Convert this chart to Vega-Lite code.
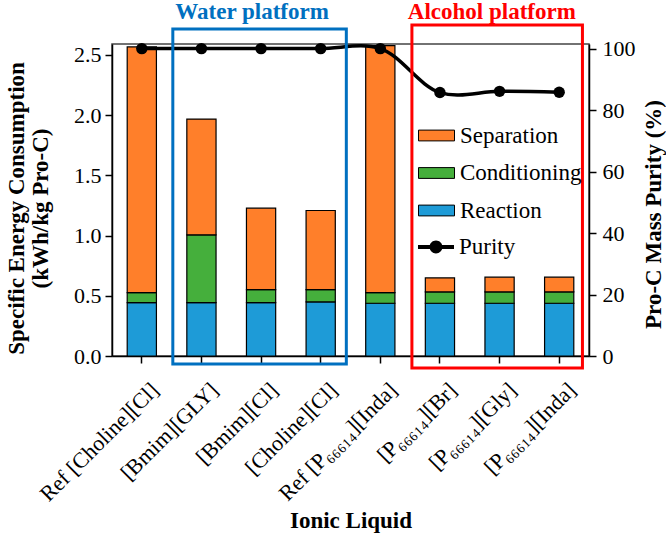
{
  "$schema": "https://vega.github.io/schema/vega-lite/v6.json",
  "width": 477,
  "height": 312,
  "autosize": {"type": "none"},
  "padding": {"left": 112, "top": 44, "right": 77, "bottom": 181},
  "background": "white",
  "config": {
    "font": "Liberation Serif, Times New Roman, DejaVu Serif, serif",
    "text": {"font": "Liberation Serif, Times New Roman, DejaVu Serif, serif"},
    "view": {"stroke": "#444", "strokeWidth": 1.5},
    "axis": {
      "labelFont": "Liberation Serif, Times New Roman, DejaVu Serif, serif",
      "titleFont": "Liberation Serif, Times New Roman, DejaVu Serif, serif",
      "labelColor": "black",
      "titleColor": "black",
      "domainColor": "black",
      "tickColor": "black",
      "domainWidth": 1.5,
      "tickWidth": 1.5,
      "tickSize": 7,
      "labelFontSize": 22,
      "titleFontSize": 23,
      "titleFontWeight": "bold",
      "grid": false
    },
    "legend": {"labelFont": "Liberation Serif, Times New Roman, DejaVu Serif, serif", "labelColor": "black"}
  },
  "datasets": {
    "energy": [
      {"ionic_liquid": "Ref [Choline][Cl]", "stage": "Reaction", "step": 1, "kwh": 0.443},
      {"ionic_liquid": "Ref [Choline][Cl]", "stage": "Conditioning", "step": 2, "kwh": 0.083},
      {"ionic_liquid": "Ref [Choline][Cl]", "stage": "Separation", "step": 3, "kwh": 2.04},
      {"ionic_liquid": "[Bmim][GLY]", "stage": "Reaction", "step": 1, "kwh": 0.443},
      {"ionic_liquid": "[Bmim][GLY]", "stage": "Conditioning", "step": 2, "kwh": 0.563},
      {"ionic_liquid": "[Bmim][GLY]", "stage": "Separation", "step": 3, "kwh": 0.961},
      {"ionic_liquid": "[Bmim][Cl]", "stage": "Reaction", "step": 1, "kwh": 0.443},
      {"ionic_liquid": "[Bmim][Cl]", "stage": "Conditioning", "step": 2, "kwh": 0.108},
      {"ionic_liquid": "[Bmim][Cl]", "stage": "Separation", "step": 3, "kwh": 0.676},
      {"ionic_liquid": "[Choline][Cl]", "stage": "Reaction", "step": 1, "kwh": 0.449},
      {"ionic_liquid": "[Choline][Cl]", "stage": "Conditioning", "step": 2, "kwh": 0.102},
      {"ionic_liquid": "[Choline][Cl]", "stage": "Separation", "step": 3, "kwh": 0.657},
      {"ionic_liquid": "Ref [P₆₆₆₁₄][Inda]", "stage": "Reaction", "step": 1, "kwh": 0.438},
      {"ionic_liquid": "Ref [P₆₆₆₁₄][Inda]", "stage": "Conditioning", "step": 2, "kwh": 0.088},
      {"ionic_liquid": "Ref [P₆₆₆₁₄][Inda]", "stage": "Separation", "step": 3, "kwh": 2.05},
      {"ionic_liquid": "[P₆₆₆₁₄][Br]", "stage": "Reaction", "step": 1, "kwh": 0.438},
      {"ionic_liquid": "[P₆₆₆₁₄][Br]", "stage": "Conditioning", "step": 2, "kwh": 0.094},
      {"ionic_liquid": "[P₆₆₆₁₄][Br]", "stage": "Separation", "step": 3, "kwh": 0.116},
      {"ionic_liquid": "[P₆₆₆₁₄][Gly]", "stage": "Reaction", "step": 1, "kwh": 0.438},
      {"ionic_liquid": "[P₆₆₆₁₄][Gly]", "stage": "Conditioning", "step": 2, "kwh": 0.094},
      {"ionic_liquid": "[P₆₆₆₁₄][Gly]", "stage": "Separation", "step": 3, "kwh": 0.122},
      {"ionic_liquid": "[P₆₆₆₁₄][Inda]", "stage": "Reaction", "step": 1, "kwh": 0.438},
      {"ionic_liquid": "[P₆₆₆₁₄][Inda]", "stage": "Conditioning", "step": 2, "kwh": 0.094},
      {"ionic_liquid": "[P₆₆₆₁₄][Inda]", "stage": "Separation", "step": 3, "kwh": 0.122}
    ],
    "purity": [
      {"ionic_liquid": "Ref [Choline][Cl]", "purity": 100},
      {"ionic_liquid": "[Bmim][GLY]", "purity": 100},
      {"ionic_liquid": "[Bmim][Cl]", "purity": 100},
      {"ionic_liquid": "[Choline][Cl]", "purity": 100},
      {"ionic_liquid": "Ref [P₆₆₆₁₄][Inda]", "purity": 100},
      {"ionic_liquid": "[P₆₆₆₁₄][Br]", "purity": 85.7},
      {"ionic_liquid": "[P₆₆₆₁₄][Gly]", "purity": 86.1},
      {"ionic_liquid": "[P₆₆₆₁₄][Inda]", "purity": 85.8}
    ],
    "platforms": [
      {"platform": "Water platform", "from": 1.02, "to": 3.93, "low": -0.066, "high": 2.715, "label_x": 2.35, "label_y": 2.855},
      {"platform": "Alcohol platform", "from": 5.03, "to": 7.89, "low": -0.1, "high": 2.748, "label_x": 6.37, "label_y": 2.855}
    ]
  },
  "layer": [
    {
      "layer": [
        {
          "data": {"name": "energy"},
          "mark": {"type": "bar", "stroke": "black", "strokeWidth": 1.2},
          "encoding": {
            "x": {
              "field": "ionic_liquid",
              "type": "nominal",
              "sort": null,
              "scale": {"paddingInner": 0.51, "paddingOuter": 0.255},
              "axis": {
                "title": "Ionic Liquid",
                "labelAngle": -45,
                "labelLimit": 300,
                "labelPadding": 16,
                "labelOffset": 6,
                "titleY": 171,
                "titleBaseline": "alphabetic"
              }
            },
            "y": {
              "field": "kwh",
              "type": "quantitative",
              "stack": "zero",
              "scale": {"domain": [0, 2.59], "nice": false},
              "axis": {
                "orient": "left",
                "values": [0, 0.5, 1, 1.5, 2, 2.5],
                "format": ".1f",
                "labelPadding": 4,
                "title": ["Specific Energy Consumption", "(kWh/kg Pro-C)"],
                "titleAngle": -90,
                "titleX": -96,
                "titleY": 164,
                "titleAlign": "center",
                "titleBaseline": "middle",
                "titleLineHeight": 24
              }
            },
            "fill": {
              "field": "stage",
              "type": "nominal",
              "scale": {
                "domain": ["Separation", "Conditioning", "Reaction"],
                "range": ["#FF7F2A", "#45AF3C", "#1E9BD7"]
              },
              "legend": {
                "title": null,
                "orient": "none",
                "legendX": 306,
                "legendY": 73,
                "labelFontSize": 23,
                "symbolType": "M-1,-0.3H1V0.3H-1Z",
                "symbolSize": 1296,
                "symbolStrokeColor": "black",
                "symbolStrokeWidth": 1,
                "rowPadding": 6.5,
                "labelOffset": 5,
                "encode": {"symbols": {"update": {"stroke": {"value": "black"}, "strokeWidth": {"value": 1}}}}
              }
            },
            "order": {"field": "step", "type": "quantitative"}
          }
        },
        {
          "data": {"name": "purity"},
          "layer": [
            {
              "mark": {"type": "line", "interpolate": "catmull-rom", "strokeWidth": 3.5},
              "encoding": {
                "x": {"field": "ionic_liquid", "type": "nominal", "sort": null},
                "y": {
                  "field": "purity",
                  "type": "quantitative",
                  "scale": {"domain": [0, 101.5], "nice": false},
                  "axis": {
                    "orient": "right",
                    "values": [0, 20, 40, 60, 80, 100],
                    "labelPadding": 6,
                    "title": "Pro-C Mass Purity (%)",
                    "titleAngle": -90,
                    "titleX": 64,
                    "titleY": 170,
                    "titleAlign": "center",
                    "titleBaseline": "middle"
                  }
                },
                "stroke": {
                  "datum": "Purity",
                  "type": "nominal",
                  "scale": {"domain": ["Purity"], "range": ["black"]},
                  "legend": {
                    "title": null,
                    "orient": "none",
                    "legendX": 306,
                    "legendY": 185,
                    "labelFontSize": 23,
                    "labelOffset": 5,
                    "symbolType": "M-1,-0.11H1V0.11H-1Z M0.36,0A0.36,0.36 0 1,1 -0.36,0A0.36,0.36 0 1,1 0.36,0Z",
                    "symbolSize": 1296,
                    "encode": {"symbols": {"update": {"fill": {"value": "black"}, "stroke": {"value": "black"}, "strokeWidth": {"value": 0}, "opacity": {"value": 1}}}}
                  }
                }
              }
            },
            {
              "mark": {"type": "point", "filled": true, "size": 130, "color": "black", "opacity": 1},
              "encoding": {
                "x": {"field": "ionic_liquid", "type": "nominal", "sort": null},
                "y": {"field": "purity", "type": "quantitative"}
              }
            }
          ]
        }
      ],
      "resolve": {"scale": {"y": "independent"}}
    },
    {
      "data": {"name": "platforms"},
      "layer": [
        {
          "transform": [{"filter": "datum.platform === 'Water platform'"}],
          "layer": [
            {
              "mark": {"type": "rect", "fillOpacity": 0, "stroke": "#0070C0", "strokeWidth": 3},
              "encoding": {
                "x": {"field": "from", "type": "quantitative", "scale": {"domain": [0, 8], "nice": false, "zero": false}, "axis": null},
                "x2": {"field": "to"},
                "y": {"field": "low", "type": "quantitative", "scale": {"domain": [0, 2.59], "nice": false}, "axis": null},
                "y2": {"field": "high"}
              }
            },
            {
              "mark": {"type": "text", "color": "#0070C0", "fontSize": 23, "fontWeight": "bold", "baseline": "middle", "align": "center"},
              "encoding": {
                "x": {"field": "label_x", "type": "quantitative"},
                "y": {"field": "label_y", "type": "quantitative"},
                "text": {"field": "platform"}
              }
            }
          ]
        },
        {
          "transform": [{"filter": "datum.platform === 'Alcohol platform'"}],
          "layer": [
            {
              "mark": {"type": "rect", "fillOpacity": 0, "stroke": "#FF0000", "strokeWidth": 3},
              "encoding": {
                "x": {"field": "from", "type": "quantitative"},
                "x2": {"field": "to"},
                "y": {"field": "low", "type": "quantitative"},
                "y2": {"field": "high"}
              }
            },
            {
              "mark": {"type": "text", "color": "#FF0000", "fontSize": 23, "fontWeight": "bold", "baseline": "middle", "align": "center"},
              "encoding": {
                "x": {"field": "label_x", "type": "quantitative"},
                "y": {"field": "label_y", "type": "quantitative"},
                "text": {"field": "platform"}
              }
            }
          ]
        }
      ]
    }
  ],
  "resolve": {"scale": {"x": "independent", "y": "independent"}}
}
